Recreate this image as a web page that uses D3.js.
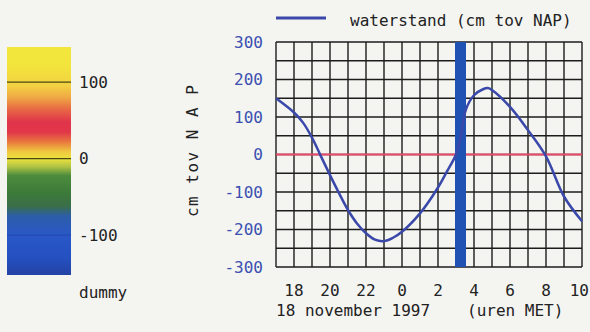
<!DOCTYPE html>
<html>
<head>
<meta charset="utf-8">
<script src="https://cdn.jsdelivr.net/npm/d3@7"></script>
<style>
  html, body { margin: 0; padding: 0; background: #f4f4f1; }
  svg { display: block; }
  text { font-family: "DejaVu Sans Mono", "Liberation Mono", monospace; }
</style>
</head>
<body>
<svg id="chart" width="590" height="332"></svg>
<script>
// ---- data ----
// hours since 0:00 on 18 november (values > 24 are next day)
const hours = [17, 18, 18.5, 19, 19.5, 20, 20.5, 21, 21.5, 22, 22.5, 23, 23.5, 24, 25, 26, 26.5, 27, 27.25, 27.55, 28, 28.5, 28.8, 29, 30, 31, 32, 33, 34];
const waterstand = [150, 112, 85, 45, -5, -55, -103, -148, -184, -210, -227, -231, -222, -206, -157, -88, -45, 0, 45, 120, 158, 174, 177, 172, 127, 65, -5, -112, -178];
const currentHour = 27.25;
const yTicks = [300, 200, 100, 0, -100, -200, -300];
const xTicks = [18, 20, 22, 24, 26, 28, 30, 32, 34];
const xTickLabels = ["18", "20", "22", "0", "2", "4", "6", "8", "10"];
const colorbarStops = [
  [146, "#f2e63c"], [120, "#f2e43c"], [95, "#f2d042"], [80, "#f0a844"],
  [65, "#e86a44"], [48, "#e0344a"], [35, "#e2364a"], [22, "#e8783e"],
  [10, "#f0c440"], [0, "#ece23e"], [-10, "#b4c444"], [-22, "#4c8c3c"],
  [-45, "#3c7a3a"], [-62, "#3a6e48"], [-75, "#2c5ea8"], [-100, "#2a58c8"],
  [-130, "#2450c0"], [-152, "#2442a4"]
];
const colorbarTicks = [100, 0, -100];
const colorbarLabels = ["100", "0", "-100"];
const legendLabel = "waterstand (cm tov NAP)";
const yTitle = "cm tov N A P";
const dateLabel = "18 november 1997";
const unitLabel = "(uren MET)";

// ---- layout ----
const svg = d3.select("#chart");
const x = d3.scaleLinear().domain([17, 34]).range([276, 582]);
const y = d3.scaleLinear().domain([-300, 300]).range([267, 42]);
const cb = d3.scaleLinear().domain([-152, 146]).range([275, 47]);
const cbX = 7, cbW = 64;

// colorbar gradient
const defs = svg.append("defs");
const grad = defs.append("linearGradient").attr("id", "cbgrad")
  .attr("gradientUnits", "userSpaceOnUse")
  .attr("x1", 0).attr("x2", 0).attr("y1", cb(146)).attr("y2", cb(-152));
grad.selectAll("stop").data(colorbarStops).join("stop")
  .attr("offset", d => (cb(d[0]) - cb(146)) / (cb(-152) - cb(146)))
  .attr("stop-color", d => d[1]);
svg.append("rect").attr("x", cbX).attr("y", cb(146)).attr("width", cbW)
  .attr("height", cb(-152) - cb(146)).attr("fill", "url(#cbgrad)");
svg.selectAll(".cbline").data(colorbarTicks).join("line")
  .attr("x1", cbX).attr("x2", cbX + cbW)
  .attr("y1", d => cb(d)).attr("y2", d => cb(d))
  .attr("stroke", (d) => d === -100 ? "#1e3c98" : "#3a3a10")
  .attr("stroke-opacity", d => d === -100 ? 0.5 : 0.9)
  .attr("stroke-width", 1.2);
svg.selectAll(".cblab").data(colorbarTicks).join("text")
  .attr("x", 79).attr("y", d => cb(d)).attr("dy", "0.36em")
  .attr("font-size", 16).attr("fill", "#222")
  .text((d, i) => colorbarLabels[i]);
svg.append("text").attr("x", 79).attr("y", 298).attr("font-size", 16)
  .attr("fill", "#222").text("dummy");

// y title
svg.append("text")
  .attr("transform", "translate(198,151) rotate(-90)")
  .attr("text-anchor", "middle").attr("font-size", 16).attr("fill", "#222")
  .attr("textLength", 132).attr("lengthAdjust", "spacing")
  .text(yTitle);

// grid
const hourLines = d3.range(17, 35);
const valLines = d3.range(-300, 301, 50);
svg.append("g").selectAll("line").data(hourLines).join("line")
  .attr("x1", d => x(d)).attr("x2", d => x(d))
  .attr("y1", y(300)).attr("y2", y(-300))
  .attr("stroke", "#1c1c1c").attr("stroke-width", 1.4);
svg.append("g").selectAll("line").data(valLines).join("line")
  .attr("x1", x(17)).attr("x2", x(34))
  .attr("y1", d => y(d)).attr("y2", d => y(d))
  .attr("stroke", "#1c1c1c").attr("stroke-width", 1.4);

// zero line
svg.append("line").attr("x1", x(17)).attr("x2", x(34))
  .attr("y1", y(0)).attr("y2", y(0))
  .attr("stroke", "#ec4a6a").attr("stroke-width", 2);

// current time bar
svg.append("rect").attr("x", x(currentHour) - 5.5).attr("width", 11)
  .attr("y", y(300)).attr("height", y(-300) - y(300))
  .attr("fill", "#2052b4");

// curve
const line = d3.line().x((d, i) => x(hours[i])).y(d => y(d)).curve(d3.curveCatmullRom.alpha(0.5));
svg.append("path").datum(waterstand).attr("d", line)
  .attr("fill", "none").attr("stroke", "#3a48aa").attr("stroke-width", 2.5)
  .attr("stroke-linejoin", "round");

// y axis labels
svg.selectAll(".ylab").data(yTicks).join("text")
  .attr("x", 263).attr("y", d => y(d)).attr("dy", "0.36em")
  .attr("text-anchor", "end").attr("font-size", 16).attr("fill", "#3a4fb0")
  .text(d => d);

// x axis labels (last one kept inside the window)
svg.selectAll(".xlab").data(xTicks).join("text")
  .attr("x", (d, i) => i === xTicks.length - 1 ? 589 : x(d)).attr("y", 296)
  .attr("text-anchor", (d, i) => i === xTicks.length - 1 ? "end" : "middle")
  .attr("font-size", 16).attr("fill", "#222")
  .text((d, i) => xTickLabels[i]);
svg.append("text").attr("x", 276).attr("y", 316).attr("font-size", 16)
  .attr("fill", "#222").text(dateLabel);
svg.append("text").attr("x", 467).attr("y", 316).attr("font-size", 16)
  .attr("fill", "#222").text(unitLabel);

// legend
svg.append("line").attr("x1", 276).attr("x2", 326).attr("y1", 18).attr("y2", 18)
  .attr("stroke", "#3a48aa").attr("stroke-width", 3);
svg.append("text").attr("x", 350).attr("y", 26).attr("font-size", 16)
  .attr("fill", "#222").text(legendLabel);
</script>
</body>
</html>
